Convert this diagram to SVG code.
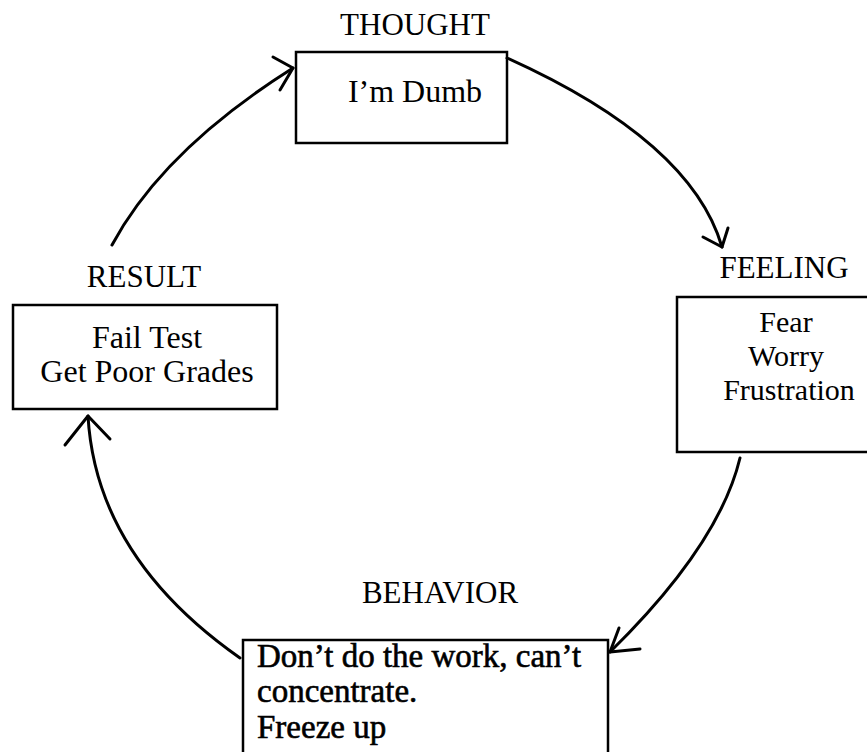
<svg xmlns="http://www.w3.org/2000/svg" width="867" height="752" viewBox="0 0 867 752">
<style>
.box{fill:none;stroke:#000;stroke-width:2.5}
.lbl{font-family:"Liberation Serif","Times New Roman",serif;font-size:31px;fill:#000;text-anchor:middle}
.txt{font-family:"Liberation Serif","Times New Roman",serif;font-size:32px;fill:#000;text-anchor:middle}
.ftxt{font-family:"Liberation Serif","Times New Roman",serif;font-size:30px;fill:#000;text-anchor:middle}
.btxt{font-family:"Liberation Serif","Times New Roman",serif;font-size:33px;fill:#000;stroke:#000;stroke-width:0.6}
.con{fill:none;stroke:#000;stroke-width:3;stroke-linecap:round;stroke-linejoin:round}
</style>
<rect width="867" height="752" fill="#fff"/>
<g id="thought">
<text class="lbl" x="415" y="35">THOUGHT</text>
<rect class="box" x="296" y="52" width="211" height="91"/>
<text class="txt" x="415" y="102">I’m Dumb</text>
</g>
<g id="feeling">
<text class="lbl" x="784" y="278">FEELING</text>
<rect class="box" x="677" y="297" width="200" height="155"/>
<text class="ftxt" x="786" y="332">Fear</text>
<text class="ftxt" x="786" y="366">Worry</text>
<text class="ftxt" x="789" y="400">Frustration</text>
</g>
<g id="behavior">
<text class="lbl" x="440" y="603">BEHAVIOR</text>
<rect class="box" x="243" y="640" width="365" height="120"/>
<text class="btxt" x="257" y="667">Don’t do the work, can’t</text>
<text class="btxt" x="257" y="702">concentrate.</text>
<text class="btxt" x="257" y="738">Freeze up</text>
</g>
<g id="result">
<text class="lbl" x="144" y="287">RESULT</text>
<rect class="box" x="13" y="305" width="264" height="104"/>
<text class="txt" x="147" y="348">Fail Test</text>
<text class="txt" x="147" y="382">Get Poor Grades</text>
</g>
<g id="connectors">
<path class="con" d="M112,245 Q163,150 293,68"/>
<polyline class="con" points="273,57 293,68 280,90"/>
<path class="con" d="M507,58 Q691,141 722,247"/>
<polyline class="con" points="703,237 722,247 728,228"/>
<path class="con" d="M740,458 Q719,545 610,652"/>
<polyline class="con" points="619,628 610,652 640,649"/>
<path class="con" d="M240,658 Q96,557 88,416"/>
<polyline class="con" points="65,445 88,416 110,439"/>
</g>
</svg>
